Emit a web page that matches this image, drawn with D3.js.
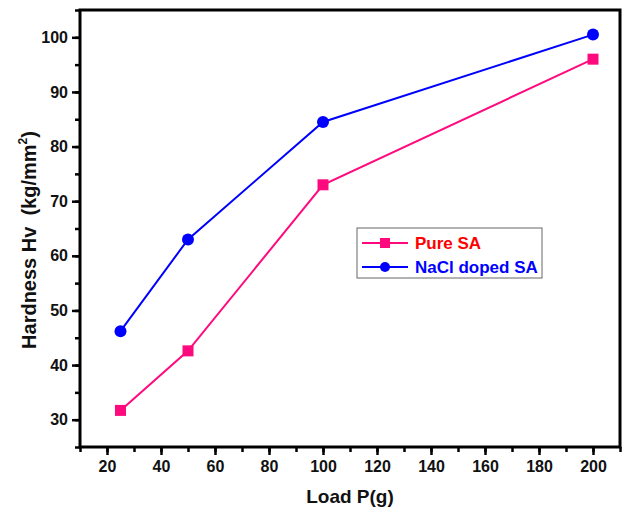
<!DOCTYPE html>
<html>
  <head>
    <title>Hardness vs Load</title>
    <script src="https://d3js.org/d3.v7.min.js" charset="utf-8"></script>
    <style>
    body {
        margin: 0;
        background: white;
        font-family: "Liberation Sans", Arial, sans-serif;
    }
    .tick text {
        font-size: 16px;
        font-weight: bold;
    }
    </style>
  </head>

  <body>
    <script>
// data
var loads = [25, 50, 100, 200];
var pureSA = [31.7, 42.6, 73.0, 96.0];
var dopedSA = [46.2, 63.0, 84.5, 100.5];
var seriesNames = ["Pure SA", "NaCl doped SA"];
var xTicks = [20, 40, 60, 80, 100, 120, 140, 160, 180, 200];
var yTicks = [30, 40, 50, 60, 70, 80, 90, 100];

var width = 627;
var height = 512;
var pink = "#ff0a7e";
var blue = "#0000ff";

var plotLeft = 80, plotTop = 10, plotRight = 620, plotBottom = 447;

var svg = d3.select("body")
  .append("svg")
  .attr("width", width)
  .attr("height", height);

var x = d3.scaleLinear().domain([10, 210]).range([plotLeft, plotRight]);
var y = d3.scaleLinear().domain([25, 105]).range([plotBottom, plotTop]);

// minor ticks
svg.append("g")
  .attr("transform", "translate(0," + plotBottom + ")")
  .call(d3.axisBottom(x).tickValues(d3.range(10, 211, 10)).tickSize(5).tickFormat(""))
  .call(g => g.select(".domain").remove())
  .selectAll("line").attr("stroke-width", 2.5);

svg.append("g")
  .attr("transform", "translate(" + plotLeft + ",0)")
  .call(d3.axisLeft(y).tickValues(d3.range(25, 106, 5)).tickSize(5).tickFormat(""))
  .call(g => g.select(".domain").remove())
  .selectAll("line").attr("stroke-width", 2.5);

// major ticks
var xAxis = svg.append("g")
  .attr("transform", "translate(0," + plotBottom + ")")
  .call(d3.axisBottom(x).tickValues(xTicks).tickSize(8).tickPadding(6));
xAxis.select(".domain").remove();
xAxis.selectAll("line").attr("stroke-width", 2.5);
xAxis.selectAll("text").attr("fill", "#111");

var yAxis = svg.append("g")
  .attr("transform", "translate(" + plotLeft + ",0)")
  .call(d3.axisLeft(y).tickValues(yTicks).tickSize(8).tickPadding(4));
yAxis.select(".domain").remove();
yAxis.selectAll("line").attr("stroke-width", 2.5);
yAxis.selectAll("text").attr("fill", "#111");

// frame
svg.append("rect")
  .attr("x", plotLeft)
  .attr("y", plotTop)
  .attr("width", plotRight - plotLeft)
  .attr("height", plotBottom - plotTop)
  .attr("fill", "none")
  .attr("stroke", "#000")
  .attr("stroke-width", 3);

var line = d3.line()
  .x(function(d, i) { return x(loads[i]); })
  .y(function(d) { return y(d); });

svg.append("path")
  .attr("d", line(pureSA))
  .attr("fill", "none")
  .attr("stroke", pink)
  .attr("stroke-width", 2);

svg.append("path")
  .attr("d", line(dopedSA))
  .attr("fill", "none")
  .attr("stroke", blue)
  .attr("stroke-width", 2);

svg.selectAll(".sq")
  .data(pureSA)
  .enter()
  .append("rect")
  .attr("class", "sq")
  .attr("x", function(d, i) { return x(loads[i]) - 5.5; })
  .attr("y", function(d) { return y(d) - 5.5; })
  .attr("width", 11)
  .attr("height", 11)
  .attr("fill", pink);

svg.selectAll(".dot")
  .data(dopedSA)
  .enter()
  .append("circle")
  .attr("class", "dot")
  .attr("cx", function(d, i) { return x(loads[i]); })
  .attr("cy", function(d) { return y(d); })
  .attr("r", 6)
  .attr("fill", blue);

// legend
var lg = svg.append("g").attr("transform", "translate(357,228)");
lg.append("rect")
  .attr("width", 185)
  .attr("height", 50)
  .attr("fill", "white")
  .attr("stroke", "#666")
  .attr("stroke-width", 1);

lg.append("line").attr("x1", 5).attr("x2", 51).attr("y1", 15).attr("y2", 15)
  .attr("stroke", pink).attr("stroke-width", 2);
lg.append("rect").attr("x", 23).attr("y", 10).attr("width", 10).attr("height", 10).attr("fill", pink);
lg.append("text").attr("x", 58).attr("y", 21).text(seriesNames[0])
  .attr("fill", "#ff0000").attr("font-size", "17px").attr("font-weight", "bold");

lg.append("line").attr("x1", 5).attr("x2", 51).attr("y1", 39).attr("y2", 39)
  .attr("stroke", blue).attr("stroke-width", 2);
lg.append("circle").attr("cx", 28).attr("cy", 39).attr("r", 5).attr("fill", blue);
lg.append("text").attr("x", 58).attr("y", 45).text(seriesNames[1])
  .attr("fill", blue).attr("font-size", "17px").attr("font-weight", "bold");

// axis titles
svg.append("text")
  .attr("x", (plotLeft + plotRight) / 2)
  .attr("y", 503)
  .attr("text-anchor", "middle")
  .attr("font-size", "19px")
  .attr("font-weight", "bold")
  .attr("fill", "#111")
  .text("Load P(g)");

var yt = svg.append("text")
  .attr("transform", "translate(36,240) rotate(-90)")
  .attr("text-anchor", "middle")
  .attr("font-size", "20px")
  .attr("font-weight", "bold")
  .attr("fill", "#111")
  .attr("xml:space", "preserve");
yt.append("tspan").text("Hardness Hv  (kg/mm");
yt.append("tspan").attr("dy", -9).attr("font-size", "12px").text("2");
yt.append("tspan").attr("dy", 9).text(")");
    </script>
  </body>
</html>
